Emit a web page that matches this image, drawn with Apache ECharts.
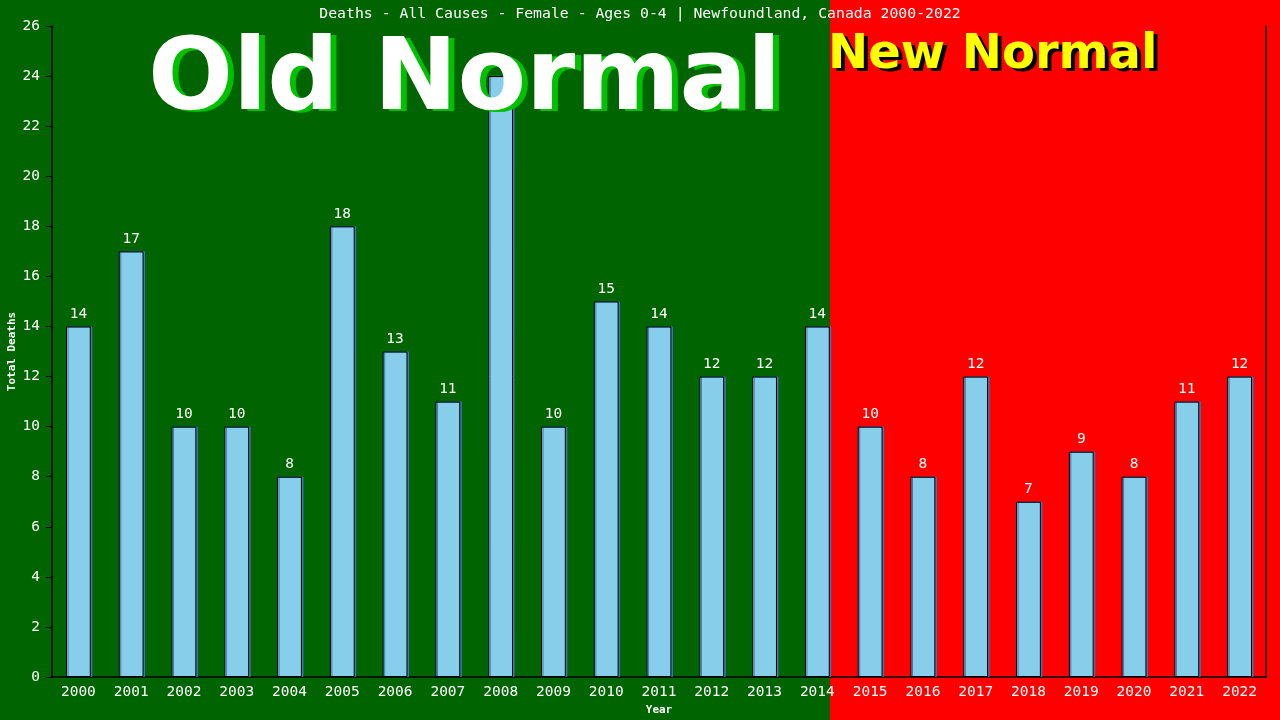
<!DOCTYPE html>
<html><head><meta charset="utf-8">
<script src="https://cdn.jsdelivr.net/npm/echarts@6/dist/echarts.min.js"></script>
<style>html,body{margin:0;padding:0;background:#006400}#c{width:1280px;height:720px}</style>
</head><body><div id="c"></div>
<script>
const years = ['2000','2001','2002','2003','2004','2005','2006','2007','2008','2009','2010','2011','2012','2013','2014','2015','2016','2017','2018','2019','2020','2021','2022'];
const deaths = [14,17,10,10,8,18,13,11,24,10,15,14,12,12,14,10,8,12,7,9,8,11,12];
const titleText = 'Deaths - All Causes - Female - Ages 0-4 | Newfoundland, Canada 2000-2022';
const mono = 'DejaVu Sans Mono';
const chart = echarts.init(document.getElementById('c'));
chart.setOption({
  backgroundColor: '#006400',
  animation: false,
  graphic: [
    {type:'rect', z:-10, silent:true, shape:{x:830,y:0,width:450,height:720}, style:{fill:'#ff0000'}},
    {type:'text', z:5, left:154, top:35, style:{text:'Old Normal', font:'bold 100px "DejaVu Sans"', fill:'#00c000'}},
    {type:'text', z:6, left:148, top:33, style:{text:'Old Normal', font:'bold 100px "DejaVu Sans"', fill:'#ffffff'}},
    {type:'text', z:5, left:832, top:35, style:{text:'New Normal', font:'bold 48px "DejaVu Sans"', fill:'#000000'}},
    {type:'text', z:6, left:828, top:32, style:{text:'New Normal', font:'bold 48px "DejaVu Sans"', fill:'#ffff00'}}
  ],
  title: {text:titleText, left:'center', top:2, textStyle:{color:'#fff', fontFamily:mono, fontSize:14.8, fontWeight:'normal'}},
  grid: {left:52, right:14, top:26, bottom:43, containLabel:false, outerBoundsMode:'none'},
  xAxis: {
    type:'category', data:years, name:'Year', nameLocation:'middle', nameGap:28, nameMoveOverlap:false,
    nameTextStyle:{color:'#fff', fontFamily:mono, fontSize:11, fontWeight:'bold'},
    axisLine:{lineStyle:{color:'#000', width:1.5}}, axisTick:{show:false},
    axisLabel:{color:'#fff', fontFamily:mono, fontSize:14.5, margin:8}
  },
  yAxis: [{
    type:'value', min:0, max:26, interval:2, name:'Total Deaths', nameLocation:'middle', nameGap:34, nameMoveOverlap:false,
    nameTextStyle:{color:'#fff', fontFamily:mono, fontSize:11, fontWeight:'bold'},
    axisLine:{show:true, lineStyle:{color:'#000', width:1.5}},
    axisTick:{show:true, length:6, lineStyle:{color:'#000'}},
    splitLine:{show:false},
    axisLabel:{color:'#fff', fontFamily:mono, fontSize:14.5, margin:12}
  },{
    type:'value', min:0, max:26, interval:2, position:'right',
    axisLine:{show:true, lineStyle:{color:'#000', width:1.5}}, axisTick:{show:false}, axisLabel:{show:false}, splitLine:{show:false}
  }],
  series: [{
    type:'bar', data:deaths, barWidth:'47%',
    itemStyle:{color:'#87ceeb', borderColor:'#000', borderWidth:1, shadowColor:'#3f78b8', shadowOffsetX:1.5, shadowOffsetY:0, shadowBlur:0},
    label:{show:true, position:'top', distance:5, color:'#fff', fontFamily:mono, fontSize:14.5}
  }]
});
</script></body></html>
